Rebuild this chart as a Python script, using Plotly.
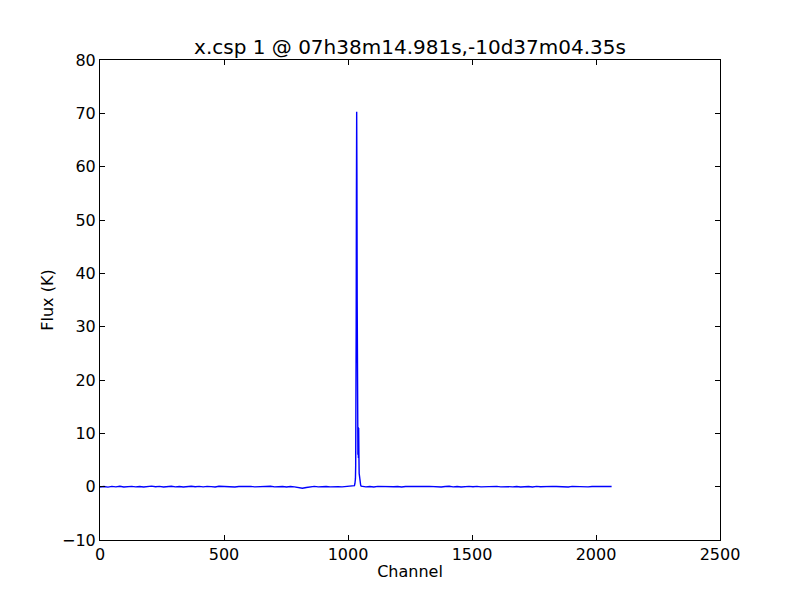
import plotly.graph_objects as go

title_text = "x.csp 1 @ 07h38m14.981s,-10d37m04.35s"
x_label = "Channel"
y_label = "Flux (K)"
x_tickvals = [0, 500, 1000, 1500, 2000, 2500]
x_ticktext = ["0", "500", "1000", "1500", "2000", "2500"]
y_tickvals = [-10, 0, 10, 20, 30, 40, 50, 60, 70, 80]
y_ticktext = ["\u221210", "0", "10", "20", "30", "40", "50", "60", "70", "80"]

channels_left = [0, 16, 32, 48, 64, 80, 96, 112, 128, 144, 160, 176, 192, 208, 224, 240,
                 256, 272, 288, 304, 320, 336, 352, 368, 384, 400, 416, 432, 448, 464, 480, 496,
                 512, 528, 544, 560, 576, 592, 608, 624, 640, 656, 672, 688, 704, 720, 736, 752,
                 768, 784, 800, 816, 832, 848, 864, 880, 896, 912, 928, 944, 960, 976, 992, 1008,
                 1016, 1022]
flux_left = [-0.05, 0.02, -0.08, 0.05, -0.03, 0.08, -0.06, 0.01, 0.06, -0.04, 0.03, -0.07, 0.04, 0.10, -0.02, 0.05,
             -0.05, 0.02, 0.07, -0.03, 0.04, -0.06, 0.03, 0.08, -0.02, 0.05, -0.04, 0.06, 0.01, -0.05, 0.07, 0.02,
             -0.03, 0.04, -0.06, 0.03, 0.05, -0.02, 0.06, -0.04, 0.02, -0.05, 0.04, 0.07, -0.03, 0.05, 0.02, -0.06,
             0.03, -0.04, -0.12, -0.30, -0.15, 0.02, 0.05, -0.03, 0.06, 0.02, -0.04, 0.05, 0.01, -0.03, 0.04, 0.03,
             0.06, 0.10]

channels_peak = [1026, 1028, 1030, 1031, 1032, 1033, 1034, 1035, 1036, 1037, 1038, 1039, 1040,
                 1041, 1042, 1043, 1044, 1045, 1046, 1047, 1048, 1049, 1051, 1053]
flux_peak = [0.2, 0.6, 1.5, 4.0, 12.0, 30.0, 55.0, 70.3, 58.0, 35.0, 18.0, 9.0, 6.0,
             11.2, 5.4, 11.0, 6.0, 2.5, 1.8, 1.7, 1.2, 0.7, 0.3, 0.1]

channels_right = [1060, 1072, 1088, 1104, 1120, 1136, 1152, 1168, 1184, 1200, 1216, 1232, 1248, 1264,
                  1280, 1296, 1312, 1328, 1344, 1360, 1376, 1392, 1408, 1424, 1440, 1456, 1472, 1488,
                  1504, 1520, 1536, 1552, 1568, 1584, 1600, 1616, 1632, 1648, 1664, 1680, 1696, 1712,
                  1728, 1744, 1760, 1776, 1792, 1808, 1824, 1840, 1856, 1872, 1888, 1904, 1920, 1936,
                  1952, 1968, 1984, 2000, 2016, 2032, 2048, 2063]
flux_right = [0.05, -0.03, 0.04, -0.05, 0.06, 0.01, -0.04, 0.05, -0.02, 0.03, -0.06, 0.04, 0.02, -0.03,
              0.05, -0.04, 0.03, 0.06, -0.02, 0.04, -0.05, 0.02, 0.07, -0.03, 0.04, -0.06, 0.03, 0.05,
              -0.02, 0.06, -0.04, 0.02, -0.05, 0.04, 0.06, -0.03, 0.05, 0.01, -0.04, 0.03, -0.06, 0.04,
              0.02, -0.05, 0.06, -0.02, 0.03, -0.04, 0.05, 0.02, -0.03, 0.04, -0.05, 0.06, 0.01, -0.03,
              0.05, -0.04, 0.03, 0.02, -0.05, 0.04, 0.01, 0.02]

channels = channels_left + channels_peak + channels_right
flux = flux_left + flux_peak + flux_right

font_family = "DejaVu Sans"

fig = go.Figure()
fig.add_trace(go.Scatter(x=channels, y=flux, mode="lines",
                         line=dict(color="#0000ff", width=1.4), hoverinfo="skip"))

axis_common = dict(showline=True, linecolor="black", linewidth=1, mirror="ticks",
                   ticks="inside", ticklen=5, tickwidth=1, tickcolor="black",
                   showgrid=False, zeroline=False, automargin=False,
                   tickfont=dict(family=font_family, size=16, color="black"))

fig.update_xaxes(range=[0, 2500], tickvals=x_tickvals, ticktext=x_ticktext,
                 title=dict(text=x_label, font=dict(family=font_family, size=16, color="black"), standoff=2),
                 **axis_common)
fig.update_yaxes(range=[-10, 80], tickvals=y_tickvals, ticktext=y_ticktext,
                 title=dict(text=y_label, font=dict(family=font_family, size=16, color="black"), standoff=4),
                 **axis_common)

fig.update_layout(
    width=800, height=600,
    margin=dict(l=92, r=88, t=52, b=68),
    paper_bgcolor="white", plot_bgcolor="white",
    showlegend=False,
    title=dict(text=title_text, x=0.5025, xanchor="center", y=0.935, yanchor="middle",
               font=dict(family=font_family, size=20, color="black")),
)

fig.write_html("out.html")
